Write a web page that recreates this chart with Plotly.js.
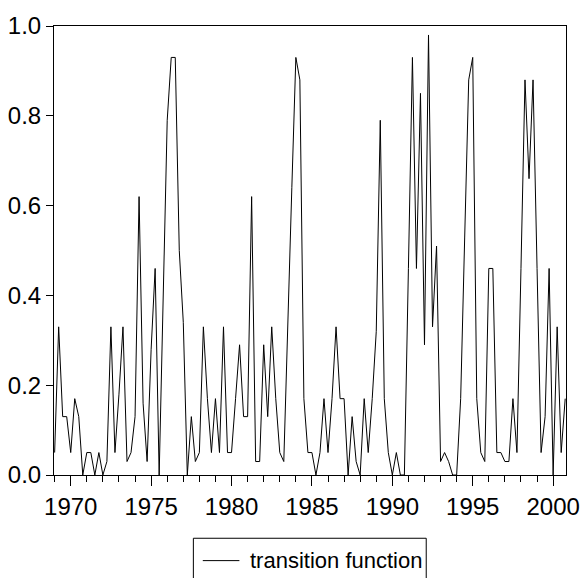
<!DOCTYPE html>
<html>
<head>
<meta charset="utf-8">
<script src="https://cdn.plot.ly/plotly-3.0.1.min.js"></script>
<style>
  html, body { margin: 0; padding: 0; background: #ffffff; }
  #chart { width: 585px; height: 578px; }
</style>
</head>
<body>
<div id="chart"></div>
<script>
// Quarterly series, 1969Q1 .. 2000Q4
const startYear = 1969;
const quartersPerYear = 4;
const seriesName = "transition function";
const transitionValues = [
  0.05, 0.33, 0.13, 0.13, 0.05, 0.17, 0.13, 0.00,
  0.05, 0.05, 0.00, 0.05, 0.00, 0.03, 0.33, 0.05,
  0.18, 0.33, 0.03, 0.05, 0.13, 0.62, 0.16, 0.03,
  0.28, 0.46, 0.00, 0.38, 0.79, 0.93, 0.93, 0.50,
  0.34, 0.00, 0.13, 0.03, 0.05, 0.33, 0.17, 0.05,
  0.17, 0.05, 0.33, 0.05, 0.05, 0.17, 0.29, 0.13,
  0.13, 0.62, 0.03, 0.03, 0.29, 0.13, 0.33, 0.17,
  0.05, 0.03, 0.35, 0.64, 0.93, 0.88, 0.17, 0.05,
  0.05, 0.00, 0.05, 0.17, 0.05, 0.17, 0.33, 0.17,
  0.17, 0.00, 0.13, 0.03, 0.00, 0.17, 0.05, 0.17,
  0.32, 0.79, 0.17, 0.05, 0.00, 0.05, 0.00, 0.00,
  0.46, 0.93, 0.46, 0.85, 0.29, 0.98, 0.33, 0.51,
  0.03, 0.05, 0.03, 0.00, 0.00, 0.17, 0.53, 0.88,
  0.93, 0.17, 0.05, 0.03, 0.46, 0.46, 0.05, 0.05,
  0.03, 0.03, 0.17, 0.05, 0.46, 0.88, 0.66, 0.88,
  0.46, 0.05, 0.13, 0.46, 0.00, 0.33, 0.05, 0.17
];
const xTickVals = [1970, 1975, 1980, 1985, 1990, 1995, 2000];
const xTickText = ["1970", "1975", "1980", "1985", "1990", "1995", "2000"];
const yTickVals = [0, 0.2, 0.4, 0.6, 0.8, 1.0];
const yTickText = ["0.0", "0.2", "0.4", "0.6", "0.8", "1.0"];

const xDates = transitionValues.map((_, i) => startYear + i / quartersPerYear);

const FONT = "Arial, 'Liberation Sans', Helvetica, sans-serif";

const trace = {
  x: xDates,
  y: transitionValues,
  type: "scatter",
  mode: "lines",
  name: seriesName,
  line: { color: "#000000", width: 1 },
  showlegend: false
};

const layout = {
  width: 585,
  height: 578,
  margin: { l: 54, r: 19, t: 26, b: 103, pad: 0 },
  paper_bgcolor: "#ffffff",
  plot_bgcolor: "#ffffff",
  font: { family: FONT, size: 24, color: "#000000" },
  xaxis: {
    range: [1968.96, 2000.80],
    tickmode: "array",
    tickvals: xTickVals,
    ticktext: xTickText,
    ticks: "outside",
    ticklen: 10,
    tickwidth: 1,
    tickcolor: "#000000",
    minor: { dtick: 1, tick0: 1970, ticks: "outside", ticklen: 6, tickwidth: 1, tickcolor: "#000000", showgrid: false },
    showgrid: false,
    zeroline: false,
    showline: true,
    linecolor: "#000000",
    linewidth: 1,
    mirror: true,
    automargin: false,
    tickfont: { family: FONT, size: 24, color: "#000000" },
    fixedrange: true
  },
  yaxis: {
    range: [0, 1],
    tickmode: "array",
    tickvals: yTickVals,
    ticktext: yTickText,
    ticks: "outside",
    ticklen: 7,
    tickwidth: 1,
    tickcolor: "#000000",
    showgrid: false,
    zeroline: false,
    showline: true,
    linecolor: "#000000",
    linewidth: 1,
    mirror: true,
    automargin: false,
    tickfont: { family: FONT, size: 24, color: "#000000" },
    fixedrange: true
  },
  showlegend: false,
  // Legend drawn by hand so it does not push the margins (box runs off the bottom edge as in the reference)
  shapes: [
    {
      type: "rect",
      xref: "paper", yref: "paper",
      x0: 0.2722, x1: 0.727,
      y0: -0.30, y1: -0.1409,
      line: { color: "#000000", width: 1 },
      fillcolor: "rgba(0,0,0,0)",
      layer: "above"
    },
    {
      type: "line",
      xref: "paper", yref: "paper",
      x0: 0.2906, x1: 0.3621,
      y0: -0.1907, y1: -0.1907,
      line: { color: "#000000", width: 1 },
      layer: "above"
    }
  ],
  annotations: [
    {
      xref: "paper", yref: "paper",
      x: 0.381, y: -0.1914,
      xanchor: "left", yanchor: "middle",
      text: seriesName,
      showarrow: false,
      borderpad: 0,
      font: { family: FONT, size: 22, color: "#000000" }
    }
  ]
};

Plotly.newPlot("chart", [trace], layout, { staticPlot: true, displayModeBar: false });
</script>
</body>
</html>
